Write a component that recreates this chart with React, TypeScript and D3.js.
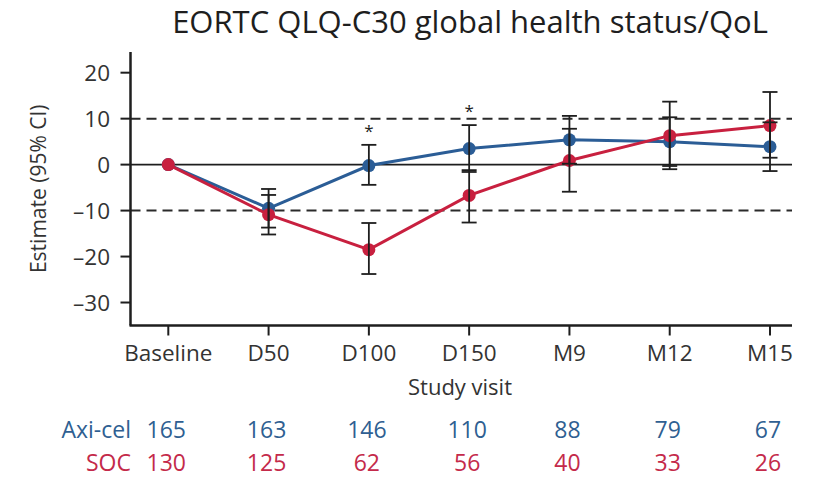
import React from "react";
import * as d3 from "d3";

const categories = ["Baseline", "D50", "D100", "D150", "M9", "M12", "M15"];

const axiMean = [0, -9.5, -0.2, 3.5, 5.4, 5.0, 3.9];
const axiLow = [0, -13.7, -4.4, -1.6, 0.2, -0.3, -1.4];
const axiHigh = [0, -5.3, 4.3, 8.6, 10.6, 10.3, 9.2];

const socMean = [0, -10.9, -18.5, -6.7, 0.9, 6.3, 8.5];
const socLow = [0, -15.2, -23.8, -12.6, -5.9, -1.0, 1.5];
const socHigh = [0, -6.6, -12.7, -1.2, 7.8, 13.7, 15.8];

const axiN = [165, 163, 146, 110, 88, 79, 67];
const socN = [130, 125, 62, 56, 40, 33, 26];

const significant = ["D100", "D150"];
const yTicks = [20, 10, 0, -10, -20, -30];
const referenceLines = [10, -10];

const BLUE = "#2b5d96";
const RED = "#c8203f";
const INK = "#1e1e1e";
const FONT = "'Open Sans', 'DejaVu Sans', sans-serif";

export default function App() {
  const width = 820;
  const height = 480;

  const x = d3.scalePoint<string>().domain(categories).range([168.3, 770]);
  const y = d3.scaleLinear().domain([-35, 24.5]).range([325.5, 52]);

  const axisLeft = 130.5;
  const axisRight = 792;
  const axisBottom = y(-35);

  const line = d3
    .line<number>()
    .x((_, i) => x(categories[i]) as number)
    .y((v) => y(v));

  const series = [
    { name: "Axi-cel", color: BLUE, text: "#2f5f92", mean: axiMean, low: axiLow, high: axiHigh, n: axiN },
    { name: "SOC", color: RED, text: "#c42a4a", mean: socMean, low: socLow, high: socHigh, n: socN },
  ];

  const capHalf = 7.5;

  return (
    <svg
      width={width}
      height={height}
      viewBox={`0 0 ${width} ${height}`}
      style={{ position: "absolute", left: 0, top: 0, background: "#fff", fontFamily: FONT }}
    >
      <text x={470} y={33} textAnchor="middle" fontSize={31} fill={INK}>
        EORTC QLQ-C30 global health status/QoL
      </text>

      {/* reference lines */}
      <line x1={axisLeft} x2={axisRight} y1={y(0)} y2={y(0)} stroke={INK} strokeWidth={1.6} />
      {referenceLines.map((v) => (
        <line
          key={v}
          x1={axisLeft}
          x2={axisRight}
          y1={y(v)}
          y2={y(v)}
          stroke="#2a2a2a"
          strokeWidth={2}
          strokeDasharray="10 6"
        />
      ))}

      {/* y axis */}
      <line x1={axisLeft} x2={axisLeft} y1={y(24.5)} y2={axisBottom} stroke={INK} strokeWidth={2.5} />
      {yTicks.map((t) => (
        <g key={t}>
          <line x1={axisLeft - 10} x2={axisLeft} y1={y(t)} y2={y(t)} stroke={INK} strokeWidth={2} />
          <text x={110} y={y(t)} dy="0.36em" textAnchor="end" fontSize={22.5} fill="#333">
            {t < 0 ? `\u2013${Math.abs(t)}` : t}
          </text>
        </g>
      ))}
      <text
        transform={`translate(46, ${(y(24.5) + axisBottom) / 2}) rotate(-90)`}
        textAnchor="middle"
        fontSize={21}
        fill="#333"
      >
        Estimate (95% CI)
      </text>

      {/* x axis */}
      <line x1={axisLeft - 1} x2={axisRight} y1={axisBottom} y2={axisBottom} stroke={INK} strokeWidth={2.5} />
      {categories.map((c) => (
        <g key={c}>
          <line x1={x(c)} x2={x(c)} y1={axisBottom} y2={axisBottom + 10} stroke={INK} strokeWidth={2} />
          <text x={x(c)} y={361} textAnchor="middle" fontSize={22.5} fill="#333">
            {c}
          </text>
        </g>
      ))}
      <text x={460} y={395} textAnchor="middle" fontSize={22} fill="#333">
        Study visit
      </text>

      {/* series lines and markers */}
      {series.map((s) => (
        <g key={s.name}>
          <path d={line(s.mean) ?? ""} fill="none" stroke={s.color} strokeWidth={3} />
          {s.mean.map((v, i) => (
            <circle key={i} cx={x(categories[i])} cy={y(v)} r={6.5} fill={s.color} />
          ))}
        </g>
      ))}

      {/* confidence intervals */}
      {series.map((s) =>
        s.mean.map((_, i) => {
          if (s.low[i] === s.high[i]) return null;
          const cx = x(categories[i]) as number;
          return (
            <g key={`${s.name}-${i}`} stroke={INK} strokeWidth={1.8}>
              <line x1={cx} x2={cx} y1={y(s.low[i])} y2={y(s.high[i])} />
              <line x1={cx - capHalf} x2={cx + capHalf} y1={y(s.low[i])} y2={y(s.low[i])} />
              <line x1={cx - capHalf} x2={cx + capHalf} y1={y(s.high[i])} y2={y(s.high[i])} />
            </g>
          );
        })
      )}

      {/* significance markers */}
      {significant.map((c) => {
        const i = categories.indexOf(c);
        const top = Math.max(axiHigh[i], socHigh[i]);
        return (
          <text key={c} x={x(c)} y={y(top) - 8} textAnchor="middle" fontSize={17} fill={INK}>
            *
          </text>
        );
      })}

      {/* numbers at risk */}
      {series.map((s, r) => (
        <g key={s.name} fill={s.text} fontSize={23}>
          <text x={131} y={438 + r * 33} textAnchor="end">
            {s.name}
          </text>
          {s.n.map((n, i) => (
            <text key={i} x={(x(categories[i]) as number) - 2} y={438 + r * 33} textAnchor="middle">
              {n}
            </text>
          ))}
        </g>
      ))}
    </svg>
  );
}
